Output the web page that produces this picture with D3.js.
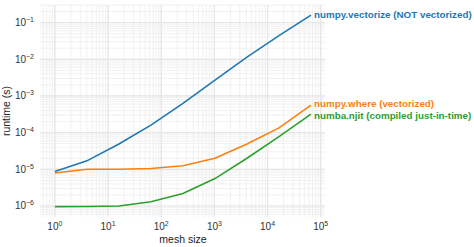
<!DOCTYPE html>
<html>
<head>
<meta charset="utf-8">
<script src="https://cdn.jsdelivr.net/npm/d3@7"></script>
<style>
  body { margin: 0; background: #fff; }
  text { font-family: "Liberation Sans", Arial, sans-serif; }
</style>
</head>
<body>
<script>
// mesh sizes (powers of 4)
var meshSizes = [1, 4, 16, 64, 256, 1024, 4096, 16384, 65536];
// runtimes in seconds
var vectorizeTimes = [8.7e-6, 1.7e-5, 4.9e-5, 1.6e-4, 6.3e-4, 2.7e-3, 1.15e-2, 4.4e-2, 1.6e-1];
var whereTimes = [7.9e-6, 1.0e-5, 1.0e-5, 1.05e-5, 1.25e-5, 2.0e-5, 4.9e-5, 1.35e-4, 5.6e-4];
var njitTimes = [9.6e-7, 9.7e-7, 1.0e-6, 1.3e-6, 2.2e-6, 5.6e-6, 2.0e-5, 7.8e-5, 3.2e-4];

var seriesNames = ["numpy.vectorize (NOT vectorized)", "numpy.where (vectorized)", "numba.njit (compiled just-in-time)"];
var seriesColors = ["#1f77b4", "#ff7f0e", "#2ca02c"];
var xTickPowers = [0, 1, 2, 3, 4, 5];
var yTickPowers = [-1, -2, -3, -4, -5, -6];

var width = 474, height = 247;

var svg = d3.select("body").append("svg")
    .attr("width", width)
    .attr("height", height);

var x = d3.scaleLog()
    .domain([Math.pow(10, -0.28), Math.pow(10, 5.08)])
    .range([40, 325]);

var y = d3.scaleLog()
    .domain([Math.pow(10, -6.3), Math.pow(10, -0.52)])
    .range([217, 5]);

var grid = svg.append("g");

// minor grid lines
var xMinor = [];
for (var p = -1; p <= 5; p++) {
    for (var m = 1; m <= 9; m++) {
        var v = m * Math.pow(10, p);
        if (v >= x.domain()[0] && v <= x.domain()[1]) xMinor.push(v);
    }
}
var yMinor = [];
for (var p = -7; p <= 0; p++) {
    for (var m = 1; m <= 9; m++) {
        var v = m * Math.pow(10, p);
        if (v >= y.domain()[0] && v <= y.domain()[1]) yMinor.push(v);
    }
}

grid.selectAll(".xm").data(xMinor).enter().append("line")
    .attr("x1", d => x(d)).attr("x2", d => x(d))
    .attr("y1", y.range()[1]).attr("y2", y.range()[0])
    .attr("stroke", "#ededed").attr("stroke-width", 0.8);

grid.selectAll(".ym").data(yMinor).enter().append("line")
    .attr("y1", d => y(d)).attr("y2", d => y(d))
    .attr("x1", x.range()[0]).attr("x2", x.range()[1])
    .attr("stroke", "#ededed").attr("stroke-width", 0.8);

// major grid lines
grid.selectAll(".xM").data(xTickPowers).enter().append("line")
    .attr("x1", d => x(Math.pow(10, d))).attr("x2", d => x(Math.pow(10, d)))
    .attr("y1", y.range()[1]).attr("y2", y.range()[0])
    .attr("stroke", "#e6e6e6").attr("stroke-width", 1.2);

grid.selectAll(".yM").data(yTickPowers).enter().append("line")
    .attr("y1", d => y(Math.pow(10, d))).attr("y2", d => y(Math.pow(10, d)))
    .attr("x1", x.range()[0]).attr("x2", x.range()[1])
    .attr("stroke", "#e6e6e6").attr("stroke-width", 1.2);

// tick labels
var xl = svg.selectAll(".xt").data(xTickPowers).enter().append("text")
    .attr("x", d => x(Math.pow(10, d)))
    .attr("y", 230)
    .attr("text-anchor", "middle")
    .attr("font-size", 10)
    .attr("fill", "#333");
xl.append("tspan").text("10");
xl.append("tspan").attr("dy", -4).attr("font-size", 7).text(d => d < 0 ? "\u2212" + (-d) : d);

var yl = svg.selectAll(".yt").data(yTickPowers).enter().append("text")
    .attr("x", 34)
    .attr("y", d => y(Math.pow(10, d)) + 3.5)
    .attr("text-anchor", "end")
    .attr("font-size", 10)
    .attr("fill", "#333");
yl.append("tspan").text("10");
yl.append("tspan").attr("dy", -4).attr("font-size", 7).text(d => d < 0 ? "\u2212" + (-d) : d);

// axis titles
svg.append("text")
    .attr("x", 183).attr("y", 243)
    .attr("text-anchor", "middle")
    .attr("font-size", 10.5)
    .attr("fill", "#222")
    .text("mesh size");

svg.append("text")
    .attr("transform", "translate(10," + 111 + ") rotate(-90)")
    .attr("text-anchor", "middle")
    .attr("font-size", 10.5)
    .attr("fill", "#222")
    .text("runtime (s)");

// lines
var allSeries = [vectorizeTimes, whereTimes, njitTimes];
var line = d3.line()
    .x((d, i) => x(meshSizes[i]))
    .y(d => y(d));

svg.selectAll(".series").data(allSeries).enter().append("path")
    .attr("d", d => line(d))
    .attr("fill", "none")
    .attr("stroke", (d, i) => seriesColors[i])
    .attr("stroke-width", 1.6);

// end labels
var labelOffsets = [0, -1.5, 1.5];
svg.selectAll(".lab").data(allSeries).enter().append("text")
    .attr("x", x(meshSizes[meshSizes.length - 1]) + 3)
    .attr("y", (d, i) => y(d[d.length - 1]) + 3.3 + labelOffsets[i])
    .attr("font-size", 9.8)
    .attr("font-weight", "bold")
    .attr("fill", (d, i) => seriesColors[i])
    .text((d, i) => seriesNames[i]);
</script>
</body>
</html>
